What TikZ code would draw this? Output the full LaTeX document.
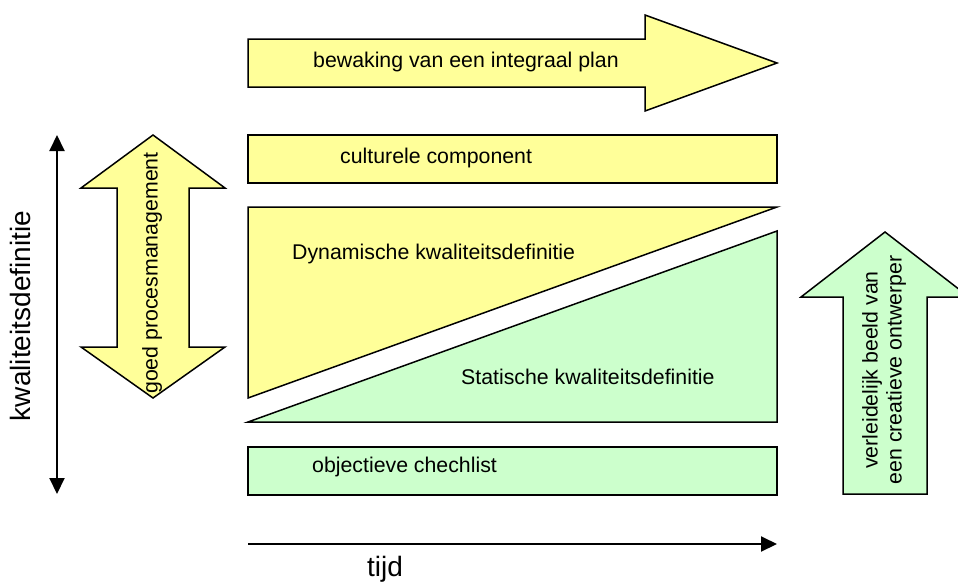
\documentclass[tikz,border=0pt]{standalone}
\usepackage{fontspec}
\setmainfont{Liberation Sans}
\usetikzlibrary{arrows.meta}
\definecolor{yfill}{HTML}{FFFF99}
\definecolor{gfill}{HTML}{CCFFCC}
\begin{document}
\begin{tikzpicture}[x=1pt,y=-1pt,
  shapeline/.style={draw=black, line width=1.5pt, line join=miter},
  yel/.style={shapeline, fill=yfill},
  grn/.style={shapeline, fill=gfill},
  lbl/.style={font=\fontsize{21.3}{24}\selectfont, inner sep=0pt},
  biglbl/.style={font=\fontsize{28}{32}\selectfont, inner sep=0pt},
  axisline/.style={line width=2pt}]
\clip (0,0) rectangle (958,581);
\useasboundingbox (0,0) rectangle (958,581);

% top arrow
\draw[yel] (248,39) -- (645,39) -- (645,15) -- (777,63) -- (645,111) -- (645,87) -- (248,87) -- cycle;
\node[lbl, anchor=west] (plan) at (313,62) {bewaking van een integraal plan};

% culturele component
\draw[yel] (248,135) rectangle (777,183);
\node[lbl, anchor=west] (cult) at (340,158) {culturele component};

% triangles
\draw[yel] (248,207) -- (777,207) -- (248,398) -- cycle;
\node[lbl, anchor=west] (dyn) at (292,254) {Dynamische kwaliteitsdefinitie};
\draw[grn] (248,422) -- (777,231) -- (777,422) -- cycle;
\node[lbl, anchor=west] (stat) at (461,377) {Statische kwaliteitsdefinitie};

% objectieve chechlist
\draw[grn] (248,447) rectangle (777,495);
\node[lbl, anchor=west] (obj) at (312,467) {objectieve chechlist};

% double arrow
\draw[yel] (153,135) -- (225,188) -- (189,188) -- (189,347) -- (225,347) -- (153,398)
  -- (81,347) -- (117,347) -- (117,188) -- (81,188) -- cycle;
\node[lbl, rotate=90] (goed) at (152,273) {goed procesmanagement};

% green up arrow
\draw[grn] (885,232) -- (969,297) -- (927,297) -- (927,494) -- (843,494) -- (843,297) -- (801,297) -- cycle;
\node[lbl, rotate=90, align=center] (verl) at (884,370) {verleidelijk beeld van\\een creatieve ontwerper};

% axes
\coordinate (vtop) at (57,135);
\coordinate (vbot) at (57,494);
\draw[axisline, {Triangle[length=16pt,width=15pt]}-{Triangle[length=16pt,width=15pt]}] (vtop) -- (vbot);
\node[biglbl, rotate=90] (kwal) at (20,316) {kwaliteitsdefinitie};

\coordinate (hl) at (248,544);
\coordinate (hr) at (777,544);
\draw[axisline, -{Triangle[length=16pt,width=15pt]}] (hl) -- (hr);
\node[biglbl] (tijd) at (385,569) {tijd};
\end{tikzpicture}
\end{document}
